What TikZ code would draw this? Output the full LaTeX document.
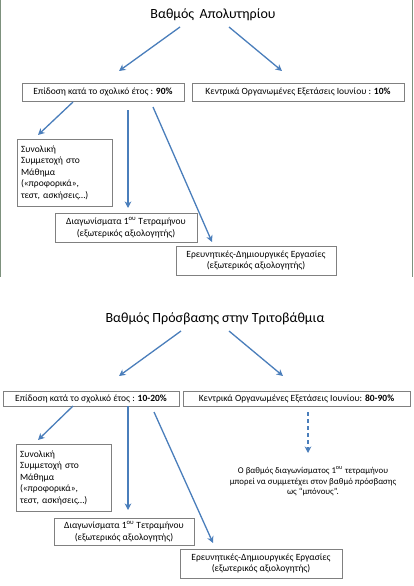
\documentclass[tikz,border=0pt]{standalone}
\usepackage{fontspec}
\setmainfont{Carlito}
\usetikzlibrary{arrows.meta}
\definecolor{arrblue}{RGB}{74,126,187}
\definecolor{boxgray}{RGB}{128,128,128}
\definecolor{sidegreen}{RGB}{125,145,125}
\tikzset{
  arr/.style={draw=arrblue, line width=1.3pt, -{Stealth[length=6.5pt,width=6.5pt,inset=2pt]}},
  dasharr/.style={arr, dash pattern=on 4pt off 3pt},
  titlenode/.style={font=\fontsize{14}{16}\selectfont, inner sep=0pt},
  boxnode/.style={draw=boxgray, line width=0.7pt, font=\fontsize{9.5}{11.5}\selectfont, inner sep=0pt, align=center, fill=white},
  leftbox/.style={boxnode, align=left},
  notenode/.style={font=\fontsize{8.8}{10.6}\selectfont, inner sep=0pt, align=center}
}
\begin{document}
\begin{tikzpicture}[x=1pt,y=-1pt]
\useasboundingbox (0,0) rectangle (413,586);
\fill[white] (0,0) rectangle (413,586);
% side lines of upper panel
\draw[sidegreen, line width=1.2pt] (0.6,0) -- (0.6,277);
\draw[sidegreen, line width=1.2pt] (412.4,0) -- (412.4,277);

% ===== Upper diagram =====
\node[titlenode] (t1) at (213,15) {Βαθμός\, Απολυτηρίου};
\node[boxnode, minimum width=162pt, minimum height=18pt] (b1) at (103,92) {Επίδοση κατά το σχολικό έτος : \textbf{90\%}};
\node[boxnode, minimum width=212pt, minimum height=18pt] (b2) at (298,92) {Κεντρικά Οργανωμένες Εξετάσεις Ιουνίου : \textbf{10\%}};
\node[leftbox, minimum width=95pt, minimum height=67pt, text width=87pt] (s1) at (64.5,172.5) {Συνολική\\Συμμετοχή στο\\Μάθημα\\(«προφορικά»,\\τεστ, ασκήσεις…)};
\node[boxnode, minimum width=142pt, minimum height=29pt] (d1) at (126,227.5) {Διαγωνίσματα 1\textsuperscript{ου} Τετραμήνου\\(εξωτερικός αξιολογητής)};
\node[boxnode, minimum width=160pt, minimum height=29pt] (e1) at (256,260.5) {Ερευνητικές-Δημιουργικές Εργασίες\\(εξωτερικός αξιολογητής)};

\coordinate (t1l) at (180,27);  \coordinate (b1t) at (119,71);
\coordinate (t1r) at (229,27);  \coordinate (b2t) at (282,71);
\coordinate (b1a) at (73,102);  \coordinate (s1t) at (38,135);
\coordinate (b1b) at (128,110); \coordinate (d1t) at (128,208);
\coordinate (b1c) at (153,107); \coordinate (e1t) at (212,242);
\draw[arr] (t1l) -- (b1t);
\draw[arr] (t1r) -- (b2t);
\draw[arr] (b1a) -- (s1t);
\draw[arr] (b1b) -- (d1t);
\draw[arr] (b1c) -- (e1t);

% ===== Lower diagram =====
\node[titlenode] (t2) at (215,319) {Βαθμός Πρόσβασης στην Τριτοβάθμια};
\node[boxnode, minimum width=176pt, minimum height=15pt] (b3) at (91,398.5) {Επίδοση κατά το σχολικό έτος : \textbf{10-20\%}};
\node[boxnode, minimum width=227pt, minimum height=15pt] (b4) at (296.5,398.5) {Κεντρικά Οργανωμένες Εξετάσεις Ιουνίου: \textbf{80-90\%}};
\node[leftbox, minimum width=95pt, minimum height=67pt, text width=87pt] (s2) at (63.5,477.5) {Συνολική\\Συμμετοχή στο\\Μάθημα\\(«προφορικά»,\\τεστ, ασκήσεις…)};
\node[boxnode, minimum width=140pt, minimum height=27pt] (d2) at (124,531.5) {Διαγωνίσματα 1\textsuperscript{ου} Τετραμήνου\\(εξωτερικός αξιολογητής)};
\node[boxnode, minimum width=162pt, minimum height=29pt] (e2) at (261,563.5) {Ερευνητικές-Δημιουργικές Εργασίες\\(εξωτερικός αξιολογητής)};
\node[notenode] (n2) at (313,481.5) {Ο βαθμός διαγωνίσματος 1\textsuperscript{ου} τετραμήνου\\μπορεί να συμμετέχει στον βαθμό πρόσβασης\\ως “μπόνους”.};

\coordinate (t2l) at (181,331);  \coordinate (b3t) at (119,376);
\coordinate (t2r) at (229,331);  \coordinate (b4t) at (283,376);
\coordinate (b3a) at (73,406);   \coordinate (s2t) at (38,440);
\coordinate (b3b) at (128,406);  \coordinate (d2t) at (128,510);
\coordinate (b3c) at (154,412);  \coordinate (e2t) at (213,543);
\coordinate (b4a) at (308,412);  \coordinate (n2t) at (308,453);
\draw[arr] (t2l) -- (b3t);
\draw[arr] (t2r) -- (b4t);
\draw[arr] (b3a) -- (s2t);
\draw[arr] (b3b) -- (d2t);
\draw[arr] (b3c) -- (e2t);
\draw[dasharr] (b4a) -- (n2t);
\end{tikzpicture}
\end{document}
